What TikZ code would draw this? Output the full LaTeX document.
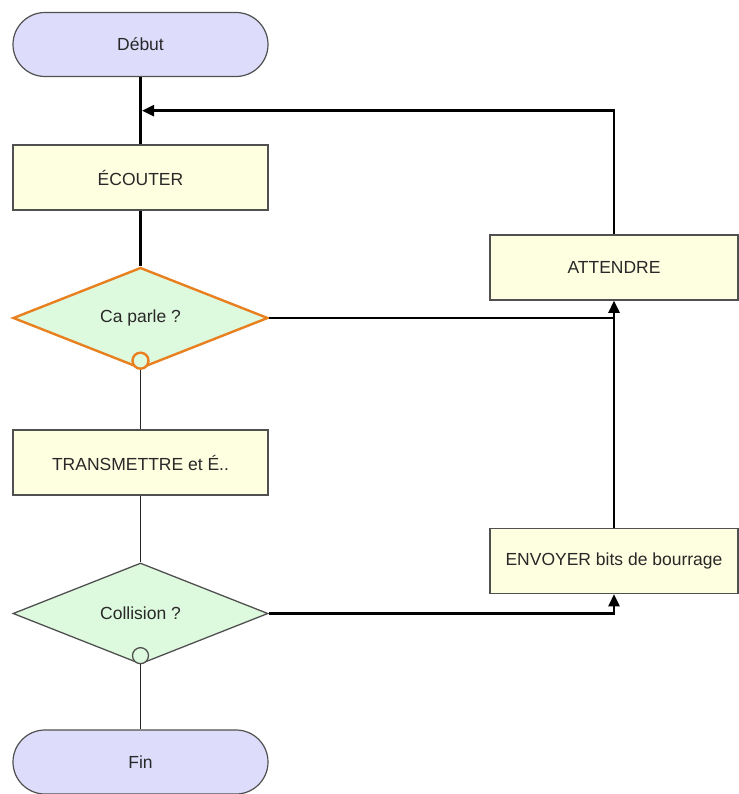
\documentclass[tikz,border=0pt]{standalone}
\usepackage{fontspec}
\setmainfont{Liberation Sans}
\usetikzlibrary{shapes.geometric,shapes.misc,arrows.meta,calc}

\definecolor{termfill}{RGB}{221,221,251}
\definecolor{boxfill}{RGB}{254,254,224}
\definecolor{decfill}{RGB}{222,250,222}
\definecolor{orangeline}{RGB}{232,128,32}
\definecolor{edgegray}{RGB}{80,80,80}
\definecolor{txt}{RGB}{40,40,40}

\tikzset{
  x=1pt, y=-1pt,
  every node/.style={font=\fontsize{17.5}{20}\selectfont, text=txt, inner sep=0pt},
  term/.style={rounded rectangle, draw=edgegray, line width=1.2pt, fill=termfill,
    minimum width=255pt, minimum height=64pt},
  action/.style={rectangle, draw=edgegray, line width=1.5pt, fill=boxfill,
    minimum width=255pt, minimum height=65pt},
  sideaction/.style={action, minimum width=248pt},
  decision/.style={diamond, aspect=2.5, fill=decfill, minimum width=255pt, minimum height=101pt},
  thickflow/.style={draw=black, line width=3pt},
  thinflow/.style={draw=black!85, line width=1.6pt},
  loopflow/.style={draw=black, line width=2.4pt},
  tip/.style={-{Triangle[length=12pt,width=11pt]}},
  branchdot/.style={circle, minimum size=16pt, fill=decfill}
}

\begin{document}
\begin{tikzpicture}
\fill[white] (0,0) rectangle (738,794);
\useasboundingbox (0,0) rectangle (738,794);

% main column
\node[term] (debut) at (140.5,44.5) {Début};
\node[action] (ecouter) at (140.5,177.5) {ÉCOUTER};
\node[decision, draw=orangeline, line width=2.4pt] (caparle) at (140.5,318) {Ca parle ?};
\node[action] (transmettre) at (140.5,462.5) {TRANSMETTRE et É..};
\node[decision, draw=edgegray, line width=1.3pt] (collision) at (140.5,613.5) {Collision ?};
\node[term] (fin) at (140.5,762) {Fin};

% right column
\node[sideaction] (attendre) at (614,267.5) {ATTENDRE};
\node[sideaction] (envoyer) at (614,561) {ENVOYER bits de bourrage};

% branch markers at the bottom vertices
\node[branchdot, draw=orangeline, line width=2.4pt] (dot1) at ($(caparle.south)+(0,-9)$) {};
\node[branchdot, draw=edgegray, line width=1.3pt] (dot2) at ($(collision.south)+(0,-9)$) {};

% join point on the entry line
\coordinate (join) at ($(debut.south)!0.5!(ecouter.north)$);

% connectors
\draw[thickflow] (debut.south) -- (ecouter.north);
\draw[thickflow] (ecouter.south) -- (caparle.north);
\draw[thinflow] (dot1.south) -- (transmettre.north);
\draw[thinflow] (transmettre.south) -- (collision.north);
\draw[thinflow] (dot2.south) -- (fin.north);

\draw[loopflow] (caparle.east) -- (caparle.east -| attendre.south);
\draw[loopflow, tip] (envoyer.north) -- (attendre.south);
\draw[loopflow, tip] (collision.east) -| (envoyer.south);
\draw[loopflow, tip] (attendre.north) |- ($(join)+(1.5,0)$);
\end{tikzpicture}
\end{document}
